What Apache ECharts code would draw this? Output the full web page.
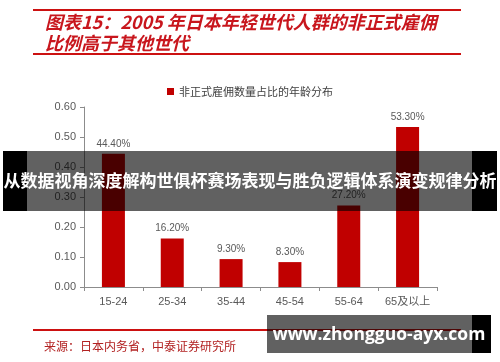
<!DOCTYPE html>
<html><head><meta charset="utf-8">
<script src="https://cdn.jsdelivr.net/npm/echarts@6/dist/echarts.min.js"></script>
<style>html,body{margin:0;padding:0;background:#fff}#c{width:500px;height:362px}</style>
</head><body><div id="c"></div>
<script>
const categories = ['15-24','25-34','35-44','45-54','55-64','65及以上'];
const shares = [0.444, 0.162, 0.093, 0.083, 0.272, 0.533];
const yTicks = ['0.00','0.10','0.20','0.30','0.40','0.50','0.60'];
const seriesName = '非正式雇佣数量占比的年龄分布';
const titleLine1 = '图表15：2005 年日本年轻世代人群的非正式雇佣';
const titleLine2 = '比例高于其他世代';
const sourceText = '来源：日本内务省，中泰证券研究所';
const bannerText = '从数据视角深度解构世俱杯赛场表现与胜负逻辑体系演变规律分析';
const watermarkText = 'www.zhongguo-ayx.com';

const chart = echarts.init(document.getElementById('c'), null, {renderer:'canvas'});
const red = '#c00000';
const gray = '#595959';
const font = '"Noto Sans CJK SC", "Liberation Sans", sans-serif';
chart.setOption({
  animation:false,
  backgroundColor:'#fff',
  textStyle:{fontFamily:font},
  legend:{
    top:81, left:'center',
    itemWidth:7, itemHeight:7, itemGap:6,
    icon:'rect',
    textStyle:{fontSize:11, color:'#404040', fontFamily:font},
    data:[seriesName]
  },
  grid:{left:84, right:63, top:107, bottom:75, containLabel:false},
  xAxis:{
    type:'category', data:categories,
    axisLine:{lineStyle:{color:'#8c8c8c', width:1}},
    axisTick:{show:true, alignWithLabel:false, length:4, lineStyle:{color:'#8c8c8c'}},
    axisLabel:{color:gray, fontSize:11, margin:9, fontFamily:'"Liberation Sans", "Noto Sans CJK SC", sans-serif'}
  },
  yAxis:{
    type:'value', min:0, max:0.6, interval:0.1,
    axisLine:{show:true, lineStyle:{color:'#8c8c8c'}},
    axisTick:{show:true, length:4, lineStyle:{color:'#8c8c8c'}},
    splitLine:{show:false},
    axisLabel:{color:gray, fontSize:11, margin:8, fontFamily:'"Liberation Sans", sans-serif',
      formatter:function(v){return yTicks[Math.round(v*10)];}}
  },
  series:[{
    name:seriesName, type:'bar', data:shares, barWidth:23,
    itemStyle:{color:red},
    label:{show:true, position:'top', distance:5, color:gray, fontSize:10,
      fontFamily:'"Liberation Sans", sans-serif',
      formatter:function(p){return (p.value*100).toFixed(2)+'%';}}
  }],
  graphic:[
    {type:'rect', shape:{x:33, y:9, width:428, height:2}, style:{fill:'#cc1111'}},
    {type:'text', left:45, top:13, style:{text:titleLine1, fill:'#c8161d', fontSize:18, fontWeight:'bold', fontStyle:'italic', fontFamily:font}},
    {type:'text', left:45, top:34, style:{text:titleLine2, fill:'#c8161d', fontSize:18, fontWeight:'bold', fontStyle:'italic', fontFamily:font}},
    {type:'rect', shape:{x:33, y:53, width:428, height:2}, style:{fill:'#cc1111'}},
    {type:'rect', shape:{x:33, y:329, width:428, height:2}, style:{fill:'#cc1111'}},
    {type:'text', left:44, top:340, style:{text:sourceText, fill:'#b22222', fontSize:12, fontFamily:font}},
    {type:'rect', z:100, shape:{x:3, y:151, width:24, height:60}, style:{fill:'#000'}},
    {type:'rect', z:100, shape:{x:27, y:151, width:445, height:60}, style:{fill:'rgba(0,0,0,0.62)'}},
    {type:'rect', z:100, shape:{x:472, y:151, width:25, height:60}, style:{fill:'#000'}},
    {type:'text', z:101, x:250, y:181, style:{text:bannerText, fill:'#fff', fontSize:17, fontWeight:'bold', fontFamily:font, align:'center', verticalAlign:'middle'}},
    {type:'rect', z:100, shape:{x:267, y:315, width:205, height:38}, style:{fill:'rgba(0,0,0,0.62)'}},
    {type:'rect', z:100, shape:{x:472, y:315, width:19, height:38}, style:{fill:'#000'}},
    {type:'text', z:101, x:379, y:335, style:{text:watermarkText, fill:'#fff', fontSize:17.5, fontWeight:'bold', fontFamily:'"Open Sans", "DejaVu Sans", sans-serif', align:'center', verticalAlign:'middle'}}
  ]
});
</script></body></html>
